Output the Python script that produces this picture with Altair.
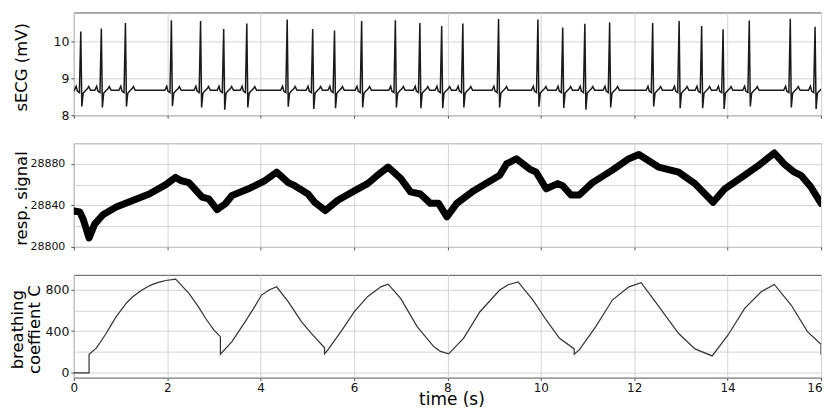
import altair as alt
import pandas as pd

# ---------------- data ----------------
# sECG: R-peak times (s), R-peak heights (mV), S-trough depths (mV)
beat_t = [0.149, 0.589, 1.105, 2.089, 2.714, 3.209, 3.704, 4.569, 5.115, 5.582,
          6.163, 6.885, 7.410, 7.877, 8.330, 9.095, 9.938, 10.469, 10.943, 11.474,
          12.395, 12.962, 13.444, 13.903, 14.464, 15.342, 15.873]
beat_r = [10.28, 10.36, 10.51, 10.59, 10.57, 10.35, 10.50, 10.61, 10.35, 10.31,
          10.57, 10.59, 10.51, 10.43, 10.50, 10.62, 10.61, 10.39, 10.49, 10.53,
          10.51, 10.57, 10.43, 10.34, 10.58, 10.63, 10.41]
beat_s = [8.24, 8.21, 8.24, 8.25, 8.21, 8.15, 8.21, 8.23, 8.17, 8.19,
          8.21, 8.21, 8.19, 8.19, 8.21, 8.21, 8.23, 8.20, 8.15, 8.21,
          8.24, 8.19, 8.19, 8.17, 8.24, 8.21, 8.17]
# one heartbeat: offset from R (s) and level (mV); "R"/"S" from lists above
wave_dt = [-0.14, -0.10, -0.075, -0.03, 0.0, 0.022, 0.05, 0.09, 0.14, 0.17, 0.21]
wave_mv = [8.68, 8.79, 8.66, 8.62, "R", "S", 8.60, 8.66, 8.72, 8.78, 8.68]
ecg_start = 8.70
ecg_end = 8.68

# respiration signal
resp_t = [0, 0.128, 0.198, 0.326, 0.446, 0.623, 0.907, 1.261, 1.615, 1.97,
          2.18, 2.29, 2.465, 2.748, 2.89, 3.067, 3.244, 3.386, 3.74, 4.095,
          4.342, 4.59, 4.73, 5.015, 5.157, 5.383, 5.652, 6.007, 6.29, 6.502,
          6.729, 6.998, 7.21, 7.42, 7.635, 7.81, 7.99, 8.2, 8.557, 9.12,
          9.265, 9.477, 9.76, 9.9, 10.115, 10.363, 10.469, 10.646, 10.823, 11.107,
          11.532, 11.886, 12.1, 12.31, 12.52, 12.95, 13.3, 13.69, 13.94, 14.36,
          14.65, 15.0, 15.21, 15.43, 15.57, 15.78, 16.0]
resp_v = [28834.6, 28833.6, 28827, 28808.6, 28822, 28831, 28838.4, 28844.8, 28851, 28860,
          28867, 28864, 28862, 28848, 28846.4, 28836, 28841.6, 28849.6, 28856, 28864,
          28872, 28862, 28859, 28851, 28843, 28835, 28845, 28854, 28861, 28869,
          28877, 28866, 28853, 28851, 28842, 28842, 28829, 28842, 28854, 28869,
          28880, 28885, 28875, 28872, 28856, 28861, 28859, 28850, 28850, 28862,
          28874, 28885, 28889, 28883, 28877, 28872, 28861, 28843, 28856, 28869,
          28878, 28890.5, 28880, 28872, 28869, 28858, 28842]

# breathing coefficient C
c_t = [0, 0.326, 0.326, 0.48, 0.6, 0.694, 0.8, 0.907, 1.0, 1.12,
       1.25, 1.402, 1.55, 1.686, 1.83, 1.97, 2.18, 2.465, 2.68, 2.82,
       2.996, 3.138, 3.138, 3.386, 3.67, 3.85, 4.02, 4.18, 4.342, 4.59,
       4.873, 5.085, 5.369, 5.369, 5.44, 5.72, 6.007, 6.29, 6.573, 6.729,
       6.998, 7.352, 7.707, 7.85, 8.025, 8.344, 8.697, 9.12, 9.3, 9.513,
       9.832, 10.115, 10.4, 10.716, 10.716, 10.823, 11.177, 11.532, 11.886, 12.148,
       12.45, 12.947, 13.3, 13.67, 14.01, 14.365, 14.72, 15.0, 15.36, 15.71,
       16.0, 16.0]
c_v = [0, 0, 178, 236, 315, 379, 460, 539, 595, 666,
       725, 778, 818, 848, 870, 886, 899, 762, 625, 523,
       411, 347, 178, 300, 491, 618, 746, 794, 825, 682,
       491, 379, 240, 181, 220, 395, 586, 730, 825, 851,
       714, 443, 252, 205, 182, 331, 586, 794, 845, 873,
       698, 507, 331, 229, 178, 220, 443, 698, 825, 864,
       682, 379, 229, 162, 363, 618, 778, 848, 650, 395,
       274, 172]

x_ticks = [0, 2, 4, 6, 8, 10, 12, 14, 16]

# ---------------- tables ----------------
ecg_rows = [(0.0, ecg_start)]
for bt, r, s in zip(beat_t, beat_r, beat_s):
    for dt, lv in zip(wave_dt, wave_mv):
        val = r if lv == "R" else (s if lv == "S" else lv)
        ecg_rows.append((bt + dt, val))
ecg_rows.append((16.0, ecg_end))
ecg_df = pd.DataFrame(ecg_rows, columns=["t", "v"])
ecg_df["i"] = range(len(ecg_df))

resp_df = pd.DataFrame({"t": resp_t, "v": resp_v})
resp_df["i"] = range(len(resp_df))
c_df = pd.DataFrame({"t": c_t, "v": c_v})
c_df["i"] = range(len(c_df))

FONT = "DejaVu Sans"
W = 749


def x_enc(last):
    ax = alt.Axis(values=x_ticks, grid=True, domain=False, ticks=True, tickSize=3,
                  labels=last, labelFontSize=12, labelPadding=2, format="d",
                  labelAlign={"condition": {"test": "datum.value == 16", "value": "right"}, "value": "center"},
                  labelOffset={"condition": {"test": "datum.value == 16", "value": 1}, "value": 0},
                  title="time (s)" if last else None,
                  titleFontSize=17, titleFontWeight="normal", titleX=W / 2 + 4, titleY=27,
                  titleBaseline="alphabetic", titleAlign="center")
    return alt.X("t:Q", scale=alt.Scale(domain=[0, 16], nice=False, zero=False), axis=ax)


def y_axis(title, values, grid_vals, h, label_size, label_pad, title_x, line_h=20):
    return alt.Axis(
        values=grid_vals, grid=True, domain=False, ticks=True, tickSize=3, format="d",
        tickOpacity={"condition": {"test": "indexof(" + str(values) + ", datum.value) < 0", "value": 0}, "value": 1},
        labelExpr="indexof(" + str(values) + ", datum.value) >= 0 ? datum.label : ''",
        labelFontSize=label_size, labelPadding=label_pad,
        title=title, titleFontSize=16.5, titleFontWeight="normal", titleAngle=270,
        titleAlign="center", titleBaseline="middle", titleX=title_x, titleY=h / 2 + 3,
        titleLineHeight=line_h,
    )


H1, H2, H3 = 103, 104, 103

ecg = alt.Chart(ecg_df).mark_line(color="#1a1a1a", strokeWidth=1.5, clip=True).encode(
    x=x_enc(False),
    y=alt.Y("v:Q", scale=alt.Scale(domain=[8, 10.8], nice=False, zero=False),
            axis=y_axis("sECG (mV)", [8, 9, 10], [8, 9, 10], H1, 12.5, 2, -52)),
    order="i:Q",
).properties(width=W, height=H1)

resp = alt.Chart(resp_df).mark_line(color="#000000", strokeWidth=7, strokeJoin="round",
                                    strokeCap="round", clip=True).encode(
    x=x_enc(False),
    y=alt.Y("v:Q", scale=alt.Scale(domain=[28800, 28900], nice=False, zero=False),
            axis=y_axis("resp. signal", [28800, 28840, 28880],
                        [28800, 28820, 28840, 28860, 28880, 28900], H2, 11, 6, -52)),
    order="i:Q",
).properties(width=W, height=H2)

coef = alt.Chart(c_df).mark_line(color="#333333", strokeWidth=1.2, clip=True).encode(
    x=x_enc(True),
    y=alt.Y("v:Q", scale=alt.Scale(domain=[-46, 940], nice=False, zero=False),
            axis=y_axis(["breathing", "coeffient C"], [0, 400, 800],
                        [0, 200, 400, 600, 800], H3, 12.5, 2, -56.7, 17.5)),
    order="i:Q",
).properties(width=W, height=H3)

chart = alt.vconcat(ecg, resp, coef, spacing=28, bounds="flush").properties(
    padding={"left": 0, "top": 3, "right": 0, "bottom": 0}
).configure_view(
    stroke="#555555", strokeWidth=1
).configure_axis(
    gridColor="#d4d4d4", gridWidth=1, tickColor="#555555", labelColor="#111111",
    titleColor="#000000", labelFont=FONT, titleFont=FONT
)

chart.save("out.html", embed_options={"renderer": "svg", "actions": False})
